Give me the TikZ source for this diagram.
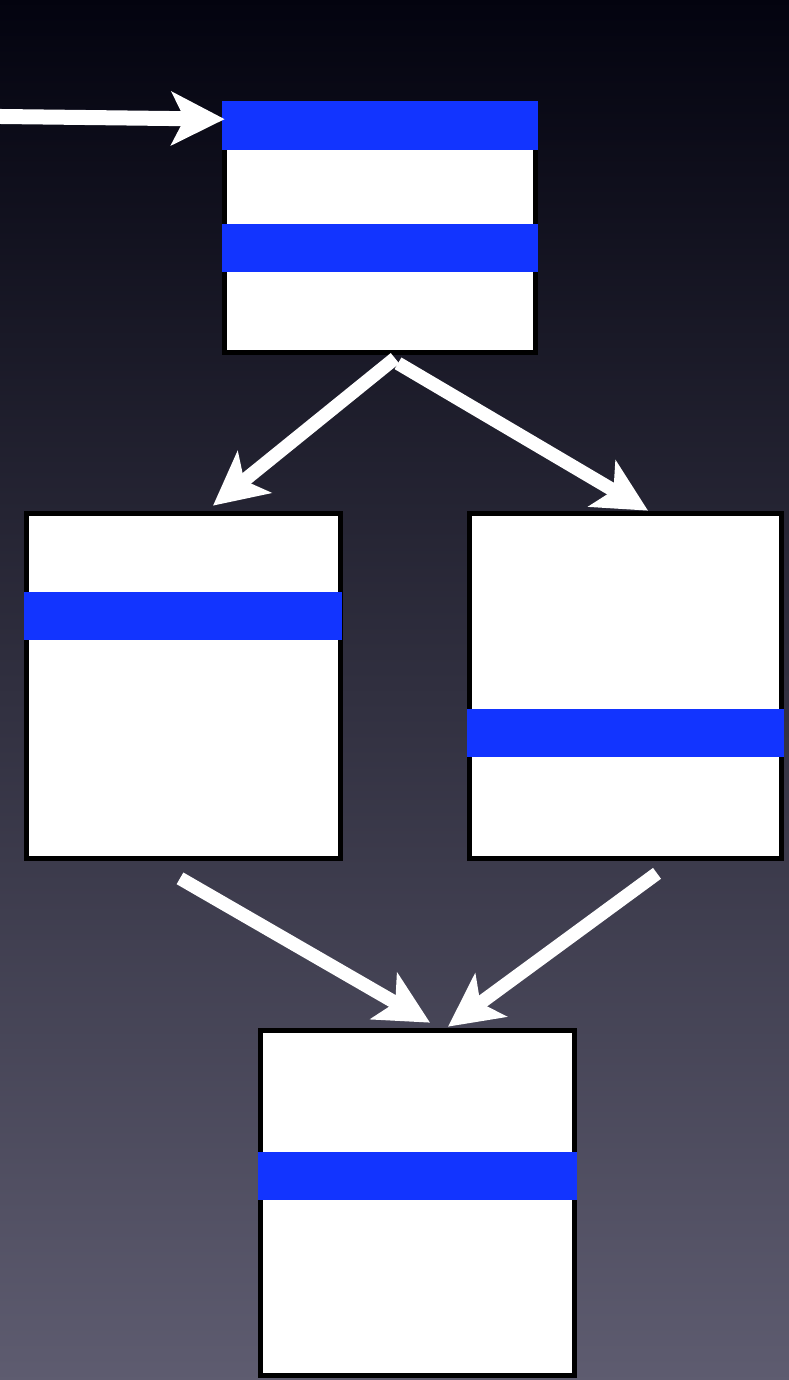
\documentclass[tikz,border=0pt]{standalone}
\usetikzlibrary{arrows.meta,calc}
\definecolor{bgtop}{RGB}{3,3,15}
\definecolor{bgmid}{RGB}{48,48,78}
\definecolor{bgbot}{RGB}{94,92,112}
\definecolor{band}{RGB}{18,52,255}
\tikzset{
  box/.style={rectangle, draw=black, line width=0.055cm, fill=white, inner sep=0pt, outer sep=0pt},
  flow/.style={draw=white, line width=0.135cm,
    -{Stealth[length=0.53cm, width=0.53cm, inset=0.13cm]}},
  bandfill/.style={fill=band}
}
\begin{document}
\begin{tikzpicture}[x=0.01cm, y=-0.01cm]
\useasboundingbox (0,0) rectangle (788,1380);
\shade[top color=bgtop, middle color=bgmid, bottom color=bgbot] (-3,-3) rectangle (792,1384);

% boxes
\node[box, minimum width=3.105cm, minimum height=2.485cm] (top) at (380,228) {};
\node[box, minimum width=3.135cm, minimum height=3.445cm] (left) at (183.5,686) {};
\node[box, minimum width=3.115cm, minimum height=3.445cm] (right) at (625.5,686) {};
\node[box, minimum width=3.135cm, minimum height=3.445cm] (bottom) at (417.5,1203) {};

% blue bands
\fill[bandfill] (222,101) rectangle (538,150);
\fill[bandfill] (222,224) rectangle (538,272);
\fill[bandfill] (24,592) rectangle (342,640);
\fill[bandfill] (467,709) rectangle (784,757);
\fill[bandfill] (258,1152) rectangle (577,1200);

% connector end points
\coordinate (in) at (0,116.5);
\coordinate (inT) at ($(top.north west)+(0,15.5)$);
\coordinate (tlS) at ($(top.south)+(15,6)$);
\coordinate (tlE) at ($(left.north)+(29.5,-8)$);
\coordinate (trS) at ($(top.south)+(18,11)$);
\coordinate (trE) at ($(right.north)+(22.5,-3)$);
\coordinate (blS) at ($(left.south)+(-3.5,20)$);
\coordinate (blE) at ($(bottom.north)+(12.5,-8)$);
\coordinate (brS) at ($(right.south)+(31.5,15)$);
\coordinate (brE) at ($(bottom.north)+(30.5,-4)$);

% connectors
\draw[flow, line width=0.15cm] (in) -- (inT);
\draw[flow] (tlS) -- (tlE);
\draw[flow] (trS) -- (trE);
\draw[flow] (blS) -- (blE);
\draw[flow] (brS) -- (brE);
\end{tikzpicture}
\end{document}
